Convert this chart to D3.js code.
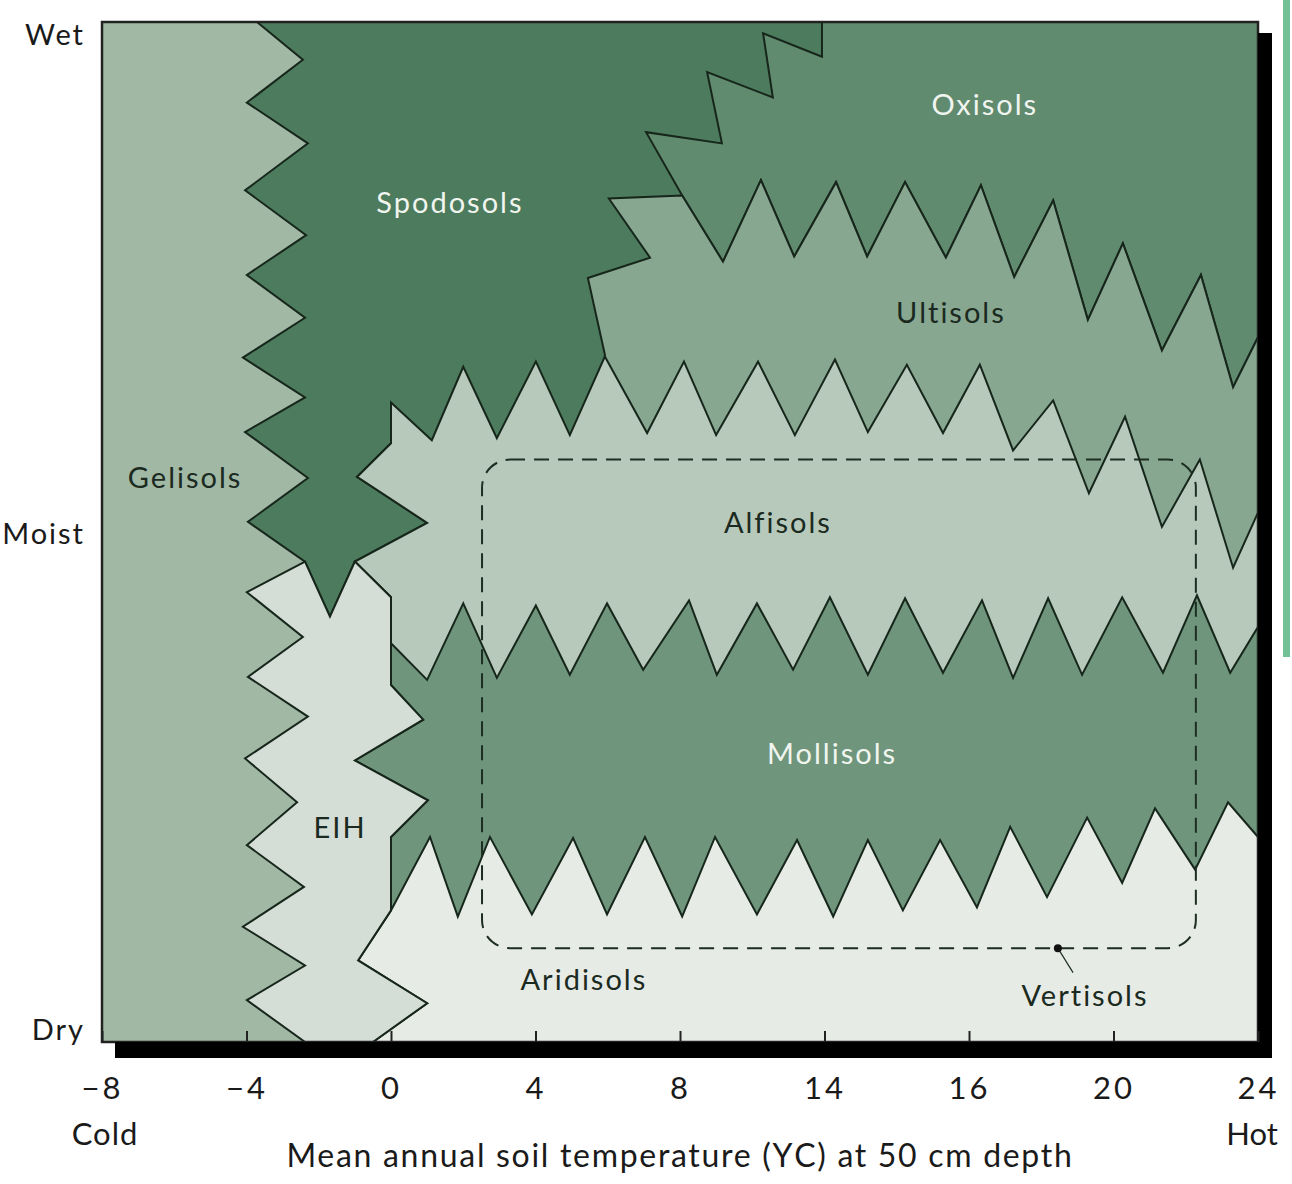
<!DOCTYPE html>
<html>
<head>
<meta charset="utf-8">
<script src="https://cdn.jsdelivr.net/npm/d3@7"></script>
<style>
  body { margin: 0; background: #fff; }
  text { font-family: Lato, "Open Sans", sans-serif; }
</style>
</head>
<body>
<div id="main"></div>
<script>
// soil orders on a temperature (degC) / moisture (0 = dry .. 100 = wet) chart

var tickValues = [-8, -4, 0, 4, 8, 12, 16, 20, 24];
var tickLabels = ["\u22128", "\u22124", "0", "4", "8", "14", "16", "20", "24"];

var moistureLabels = [
  {name: "Wet", m: 100},
  {name: "Moist", m: 50},
  {name: "Dry", m: 0}
];

// region outlines, [temperature, moisture]
var gelisols = [[-8, 0], [-8, 100], [24, 100], [24, 0]];

var spodosols = [[-3.71, 100], [-2.44, 96.3], [-3.99, 92.1], [-2.30, 88.1], [-4.04, 83.5], [-2.35, 79.1],
  [-3.99, 75.2], [-2.38, 71.0], [-4.10, 67.1], [-2.38, 63.2], [-4.04, 59.8], [-2.30, 55.3], [-3.96, 51.0],
  [-2.38, 47.1], [-1.69, 41.7], [-1.00, 47.1], [1.0, 50.9], [-0.94, 55.4], [0, 58.7], [0, 62.7],
  [0.8, 56], [24, 56], [24, 100]];

var oxisols = [[11.93, 100], [24, 100], [24, 69.1], [23.31, 64.2], [22.42, 75.2], [21.34, 67.8], [20.26, 78.3],
  [19.29, 70.8], [18.33, 82.5], [17.25, 75.0], [16.33, 84.0], [15.36, 76.9], [14.23, 84.3], [13.18, 77.0],
  [12.32, 84.3], [11.16, 77.0], [10.24, 84.5], [9.19, 76.5], [8.06, 83.0], [7.06, 89.2], [9.16, 88.1],
  [8.75, 95.1], [10.57, 92.6], [10.30, 98.9], [11.93, 96.6]];

var ultisols = [[5.92, 67.4], [5.45, 74.9], [7.17, 76.9], [6.03, 82.7], [8.06, 83.0], [9.19, 76.5], [10.24, 84.5],
  [11.16, 77.0], [12.32, 84.3], [13.18, 77.0], [14.23, 84.3], [15.36, 76.9], [16.33, 84.0], [17.25, 75.0],
  [18.33, 82.5], [19.29, 70.8], [20.26, 78.3], [21.34, 67.8], [22.42, 75.2], [23.31, 64.2], [24, 69.1],
  [24, 40], [5.92, 40]];

var alfisols = [[0, 62.7], [1.13, 59.0], [2.0, 66.2], [2.93, 59.2], [4.01, 66.7], [4.95, 59.5], [5.92, 67.2],
  [7.09, 59.7], [8.11, 66.7], [9.0, 59.5], [10.16, 66.7], [11.18, 59.5], [12.29, 66.9], [13.2, 59.8],
  [14.28, 66.4], [15.28, 59.7], [16.30, 66.4], [17.22, 58.0], [18.33, 62.9], [19.32, 53.8], [20.32, 61.3],
  [21.34, 50.5], [22.39, 57.1], [23.31, 46.5], [24, 51.9], [24, 31.6], [0, 31.6], [0, 43.6], [-1.0, 47.1],
  [1.0, 50.9], [-0.94, 55.4], [0, 58.7]];

var mollisols = [[0, 39.1], [1.0, 35.5], [2.0, 43.0], [2.93, 35.7], [4.01, 42.8], [4.95, 36.0], [5.98, 43.0],
  [6.98, 36.5], [8.25, 43.3], [9.02, 36.0], [10.13, 43.0], [11.13, 36.5], [12.15, 43.6], [13.2, 36.0],
  [14.23, 43.5], [15.28, 36.2], [16.36, 43.3], [17.22, 35.7], [18.19, 43.5], [19.13, 36.0], [20.24, 43.6],
  [21.37, 36.2], [22.31, 43.8], [23.23, 36.2], [24, 40.7], [24, 8], [0, 8], [0, 12.9], [0, 20.1],
  [1.02, 23.7], [-1.0, 27.6], [0.89, 31.6], [0, 35.0]];

var aridisols = [[-0.91, 8.0], [0, 12.9], [1.08, 20.1], [1.85, 12.3], [2.74, 20.1], [3.90, 12.5], [5.04, 20.0],
  [5.98, 12.5], [7.03, 20.1], [8.06, 12.3], [8.97, 20.1], [10.13, 12.5], [11.24, 19.8], [12.24, 12.3],
  [13.2, 19.8], [14.17, 12.9], [15.2, 19.8], [16.22, 13.2], [17.14, 21.1], [18.16, 14.2], [19.27, 22.0],
  [20.24, 15.6], [21.15, 22.9], [22.26, 16.9], [23.17, 23.5], [24, 20.1], [24, 0], [-0.5, 0], [1.0, 3.8]];

var eih = [[-2.38, 47.1], [-1.69, 41.7], [-1.0, 47.1], [0, 43.6], [0, 35.0], [0.89, 31.6], [-1.0, 27.6],
  [1.02, 23.7], [0, 20.1], [0, 12.9], [-0.91, 8.0], [1.0, 3.8], [-0.5, 0], [-2.38, 0], [-3.99, 4.1],
  [-2.38, 7.5], [-4.10, 11.3], [-2.41, 15.2], [-3.99, 19.3], [-2.60, 23.5], [-4.04, 27.8], [-2.30, 31.9],
  [-3.96, 35.8], [-2.44, 39.7], [-3.99, 44.1]];

// vertisols: temperature range, moisture range, marker point and leader end
var vertisolsTemp = [2.52, 22.28];
var vertisolsMoist = [9.2, 57.1];
var vertisolsMark = [[18.46, 9.2], [18.88, 6.8]];

// label anchors
var soilLabels = [
  {name: "Spodosols", t: 1.63, m: 82.3},
  {name: "Oxisols", t: 16.44, m: 91.9},
  {name: "Ultisols", t: 15.5, m: 71.5},
  {name: "Gelisols", t: -5.7, m: 55.3},
  {name: "Alfisols", t: 10.71, m: 50.9},
  {name: "Mollisols", t: 12.21, m: 28.3},
  {name: "EIH", t: -1.41, m: 21.0},
  {name: "Aridisols", t: 5.34, m: 6.1},
  {name: "Vertisols", t: 19.21, m: 4.6}
];
var lightLabels = ["Spodosols", "Oxisols", "Mollisols"];

var fills = {
  Gelisols: "#a1b8a5", Spodosols: "#4d7b5d", Oxisols: "#618b6f", Ultisols: "#87a791",
  Alfisols: "#b7c9bb", Mollisols: "#6f957c", Aridisols: "#e6ebe6", EIH: "#d4ddd6"
};

// back to front
var regions = [
  {name: "Gelisols", pts: gelisols},
  {name: "Spodosols", pts: spodosols},
  {name: "Oxisols", pts: oxisols},
  {name: "Ultisols", pts: ultisols},
  {name: "Alfisols", pts: alfisols},
  {name: "Mollisols", pts: mollisols},
  {name: "Aridisols", pts: aridisols},
  {name: "EIH", pts: eih}
];

var margin = {top: 22, right: 34, bottom: 142, left: 102},
    width = 1292 - margin.left - margin.right,
    height = 1184 - margin.top - margin.bottom;

var svgRoot = d3.select("#main")
    .append("svg")
    .attr("width", 1292)
    .attr("height", 1184);

// green edge of the neighbouring panel
svgRoot.append("rect")
    .attr("x", 1283)
    .attr("y", 0)
    .attr("width", 7)
    .attr("height", 657)
    .style("fill", "#74c197");

var svg = svgRoot.append("g")
    .attr("transform", "translate(" + margin.left + "," + margin.top + ")");

var xScale = d3.scaleLinear().domain([-8, 24]).range([0, width]);
var yScale = d3.scaleLinear().domain([0, 100]).range([height, 0]);

var line = d3.line()
    .x(function(d) { return xScale(d[0]); })
    .y(function(d) { return yScale(d[1]); });

svg.selectAll(".region")
    .data(regions)
    .enter()
    .append("path")
    .attr("class", "region")
    .attr("d", function(d) { return line(d.pts) + "Z"; })
    .style("fill", function(d) { return fills[d.name]; })
    .style("stroke", "#17261b")
    .style("stroke-width", 2)
    .style("stroke-linejoin", "miter");

// vertisols dashed box
svg.append("rect")
    .attr("x", xScale(vertisolsTemp[0]))
    .attr("y", yScale(vertisolsMoist[1]))
    .attr("width", xScale(vertisolsTemp[1]) - xScale(vertisolsTemp[0]))
    .attr("height", yScale(vertisolsMoist[0]) - yScale(vertisolsMoist[1]))
    .attr("rx", 28)
    .attr("ry", 28)
    .style("fill", "none")
    .style("stroke", "#1d2d22")
    .style("stroke-width", 2)
    .style("stroke-dasharray", "15,9");

svg.append("line")
    .attr("x1", xScale(vertisolsMark[0][0]))
    .attr("y1", yScale(vertisolsMark[0][1]))
    .attr("x2", xScale(vertisolsMark[1][0]))
    .attr("y2", yScale(vertisolsMark[1][1]))
    .style("stroke", "#1d2d22")
    .style("stroke-width", 1.2);

svg.append("circle")
    .attr("cx", xScale(vertisolsMark[0][0]))
    .attr("cy", yScale(vertisolsMark[0][1]))
    .attr("r", 4)
    .style("fill", "#111");

// labels
svg.selectAll(".soil")
    .data(soilLabels)
    .enter()
    .append("text")
    .attr("class", "soil")
    .attr("x", function(d) { return xScale(d.t); })
    .attr("y", function(d) { return yScale(d.m); })
    .attr("dy", ".36em")
    .style("text-anchor", "middle")
    .style("font-size", "29px")
    .style("letter-spacing", "2px")
    .style("fill", function(d) { return lightLabels.indexOf(d.name) >= 0 ? "#f1f5ef" : "#1b2a20"; })
    .text(function(d) { return d.name; });

// frame and the black drop shadow
svg.append("rect")
    .attr("width", width)
    .attr("height", height)
    .style("fill", "none")
    .style("stroke", "#222")
    .style("stroke-width", 2.5);

svg.append("rect")
    .attr("x", 13)
    .attr("y", height)
    .attr("width", width + 1)
    .attr("height", 16)
    .style("fill", "#000");

svg.append("rect")
    .attr("x", width)
    .attr("y", 11)
    .attr("width", 14)
    .attr("height", height + 5)
    .style("fill", "#000");

// x axis, ticks point up into the plot
var xAxis = d3.axisBottom(xScale)
    .tickValues(tickValues)
    .tickFormat(function(d, i) { return tickLabels[i]; })
    .tickSizeInner(-11)
    .tickSizeOuter(0)
    .tickPadding(35);

var gx = svg.append("g")
    .attr("class", "x axis")
    .attr("transform", "translate(0," + height + ")")
    .call(xAxis);

gx.select(".domain").remove();
gx.selectAll(".tick line")
    .style("stroke", "#222")
    .style("stroke-width", 2);
gx.selectAll(".tick text")
    .style("font-family", "Lato, sans-serif")
    .style("font-size", "31px")
    .style("letter-spacing", "3px")
    .style("fill", "#1a1a1a");

gx.append("text")
    .attr("x", xScale(-8) + 3)
    .attr("y", 103)
    .style("text-anchor", "middle")
    .style("font-size", "31px")
    .style("letter-spacing", "1px")
    .style("fill", "#1a1a1a")
    .text("Cold");

gx.append("text")
    .attr("x", xScale(24) - 6)
    .attr("y", 103)
    .style("text-anchor", "middle")
    .style("font-size", "31px")
    .style("fill", "#1a1a1a")
    .text("Hot");

gx.append("text")
    .attr("x", xScale(8))
    .attr("y", 125)
    .style("text-anchor", "middle")
    .style("font-size", "32px")
    .style("letter-spacing", "1.7px")
    .style("fill", "#1a1a1a")
    .text("Mean annual soil temperature (\u03A5C) at 50 cm depth");

// moisture labels on the left
svg.selectAll(".ylab")
    .data(moistureLabels)
    .enter()
    .append("text")
    .attr("class", "ylab")
    .attr("x", -17)
    .attr("y", function(d) { return yScale(d.m); })
    .attr("dy", function(d) { return d.m === 100 ? "0.78em" : (d.m === 0 ? "-0.08em" : "0.4em"); })
    .style("text-anchor", "end")
    .style("font-size", "29px")
    .style("letter-spacing", "2px")
    .style("fill", "#1a1a1a")
    .text(function(d) { return d.name; });
</script>
</body>
</html>
